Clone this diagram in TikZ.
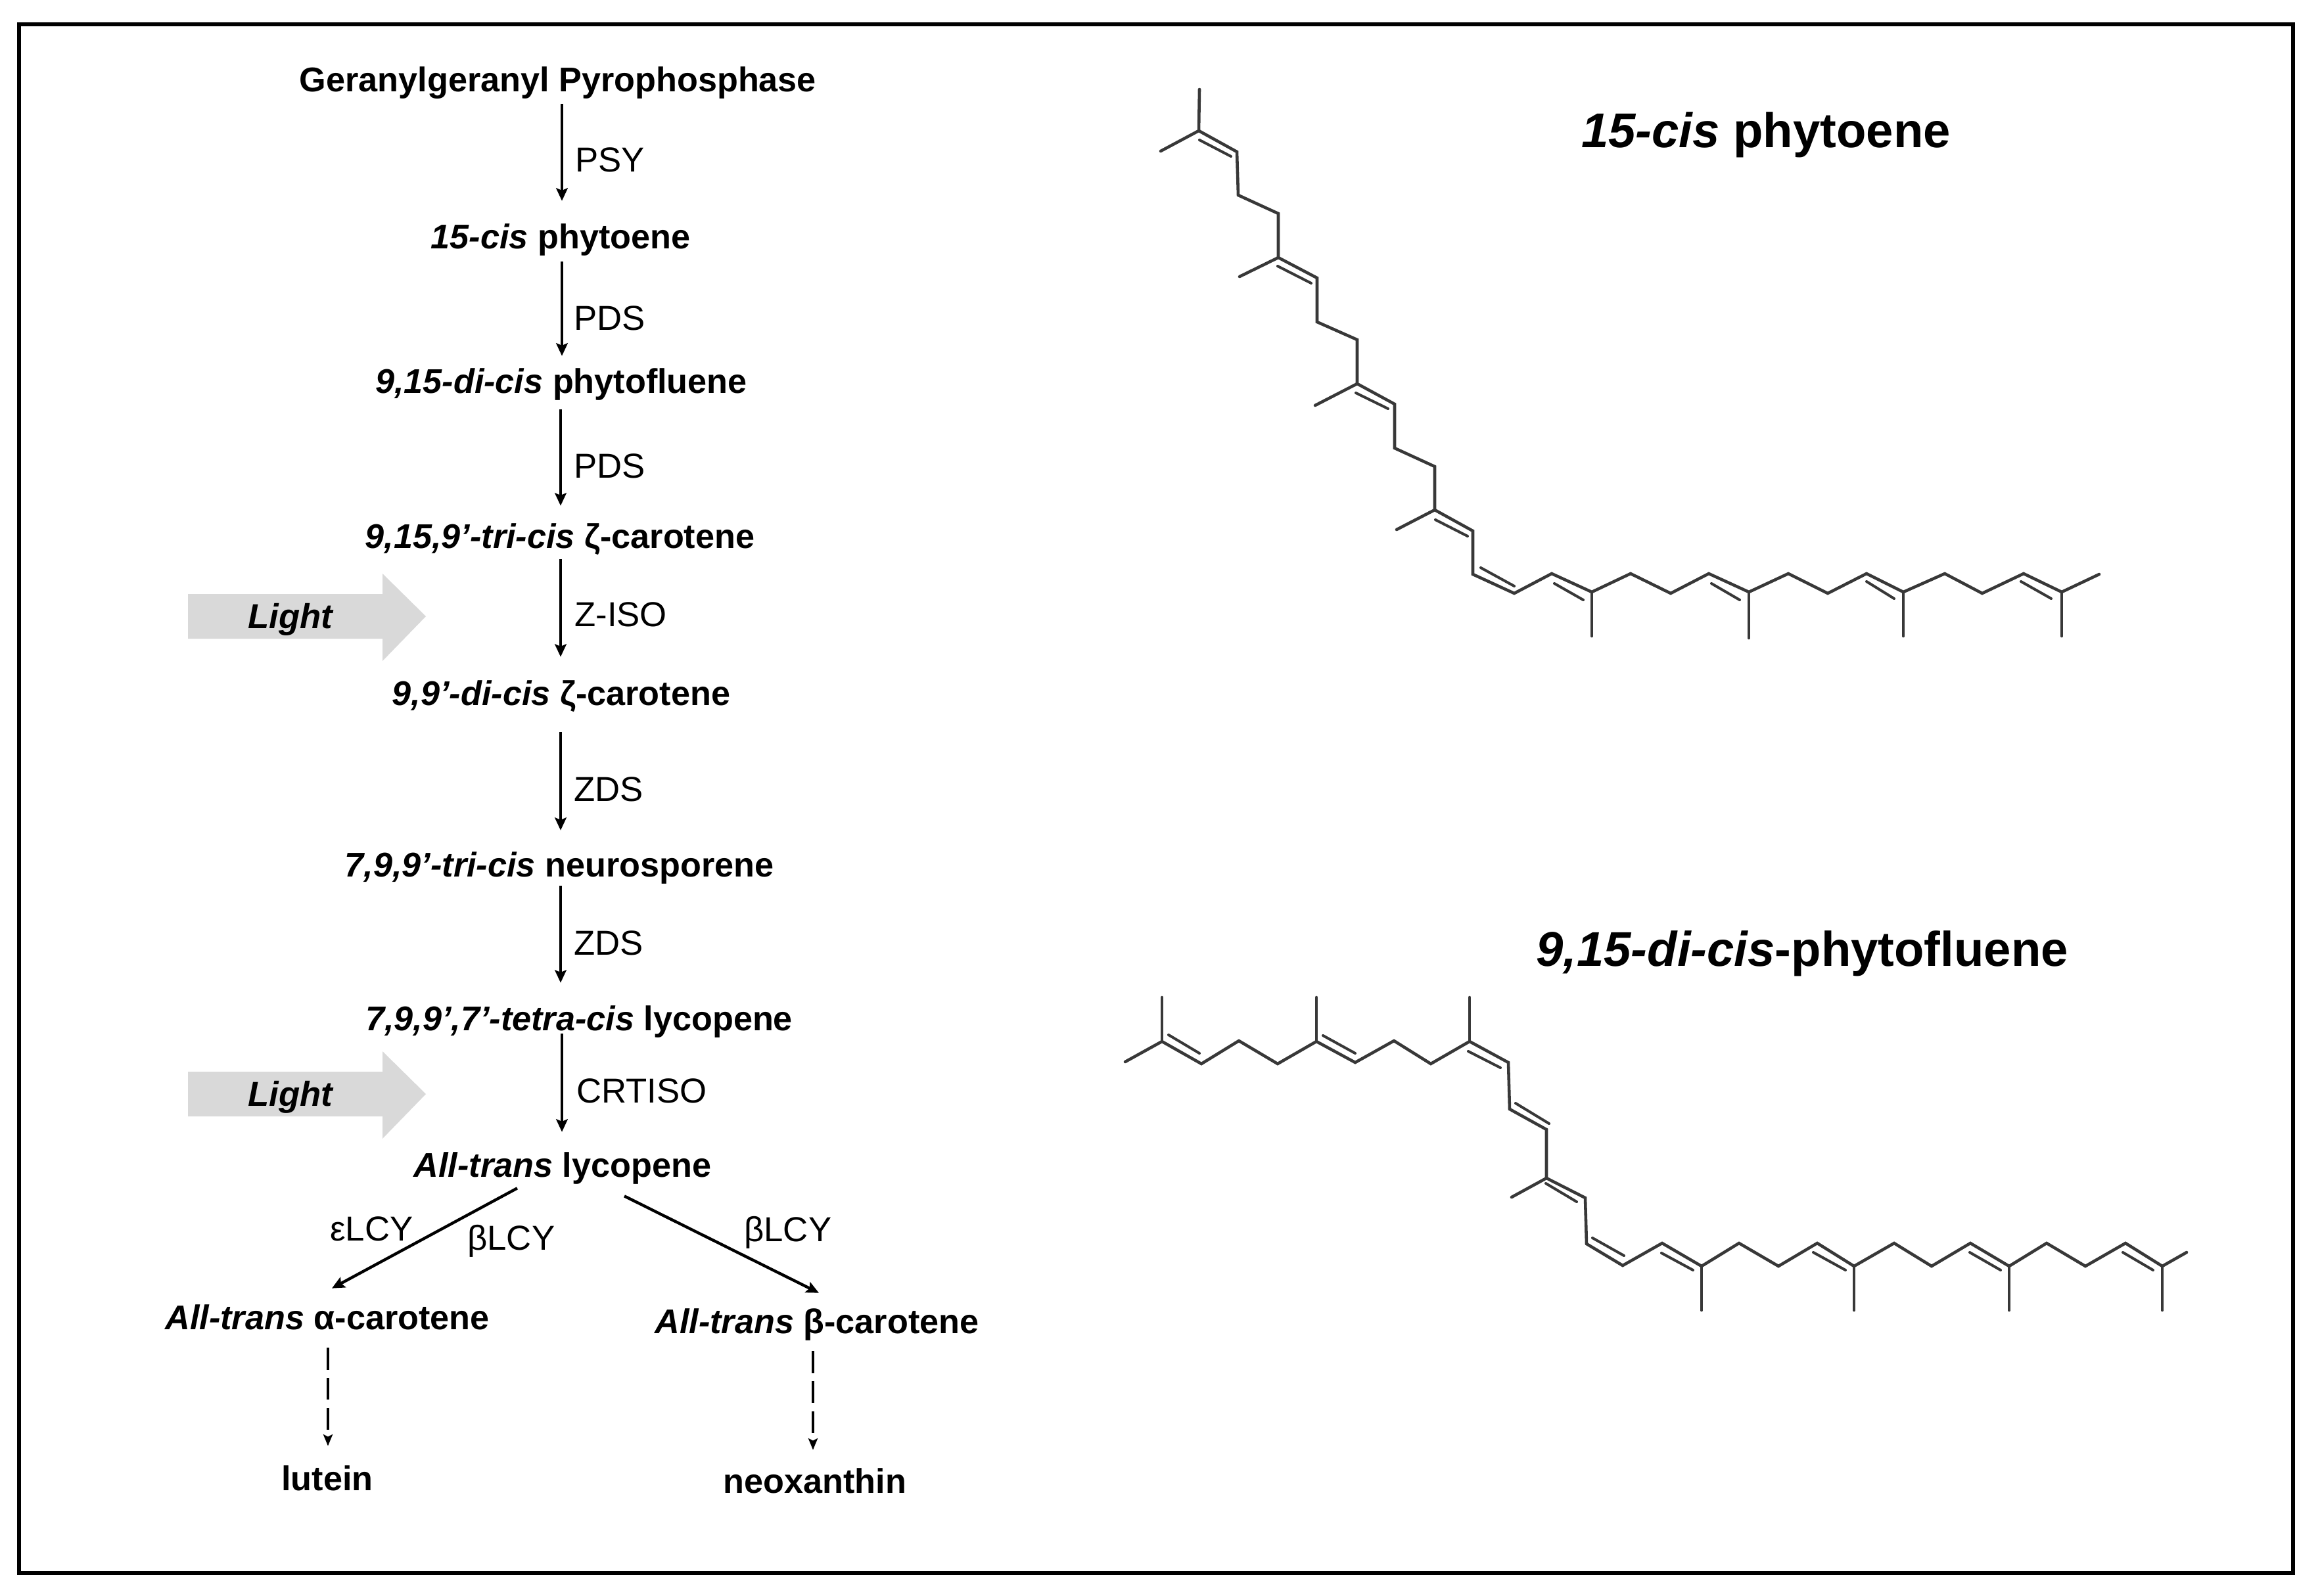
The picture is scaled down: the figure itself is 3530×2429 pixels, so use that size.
\documentclass[tikz,border=0pt]{standalone}
\usepackage{fontspec}
\setmainfont{Liberation Sans}
\usetikzlibrary{arrows.meta,calc}
\def\pxu{0.569pt}
\tikzset{
  chem/.style={draw=black!78,line width=2.6pt,line join=miter,line cap=round},
  inner/.style={draw=black!78,line width=2.3pt,line cap=round},
  cpd/.style={font=\fontsize{29.7}{33}\selectfont\bfseries,inner sep=0pt,text height=23.15pt,text depth=1.85pt,anchor=center},
  enz/.style={font=\fontsize{30}{33}\selectfont,inner sep=0pt,text height=21.5pt,text depth=0pt,anchor=west},
  ttl/.style={font=\fontsize{42.3}{47}\selectfont\bfseries,inner sep=0pt,text height=30.3pt,text depth=0pt,anchor=center},
  rx/.style={line width=2.5pt,-{Stealth[length=11pt,width=10pt,inset=2pt]}},
  dsh/.style={line width=2.2pt,dash pattern=on 19pt off 7pt,-{Stealth[length=10pt,width=8pt,inset=2pt]}},
  lightarrow/.style={fill=black!15,draw=none},
  lighttext/.style={font=\fontsize{30}{33}\selectfont\bfseries\itshape,inner sep=0pt},
}
\begin{document}
\begin{tikzpicture}[x=0.569pt,y=-0.569pt]
\useasboundingbox (0,0) rectangle (3530,2429);
\fill[white] (0,0) rectangle (3530,2429);
\draw[line width=3.4pt,black] (29,37) rectangle (3489,2394);

% pathway
\node[cpd] (ggpp) at (849,121) {Geranylgeranyl Pyrophosphase};
\node[cpd] (phy) at (853,360) {\textit{15-cis} phytoene};
\node[cpd] (pf) at (854,580) {\textit{9,15-di-cis} phytofluene};
\node[cpd] (zc1) at (852,816) {\textit{9,15,9’-tri-cis} ζ-carotene};
\node[cpd] (zc2) at (854,1055) {\textit{9,9’-di-cis} ζ-carotene};
\node[cpd] (neu) at (851,1316) {\textit{7,9,9’-tri-cis} neurosporene};
\node[cpd] (ply) at (881,1550) {\textit{7,9,9’,7’-tetra-cis} lycopene};
\node[cpd] (lyc) at (856,1773) {\textit{All-trans} lycopene};
\node[cpd] (ac) at (498,2005) {\textit{All-trans} α-carotene};
\node[cpd] (bc) at (1243,2011) {\textit{All-trans} β-carotene};
\node[cpd] (lut) at (498,2250) {lutein};
\node[cpd] (neo) at (1240,2254) {neoxanthin};

\coordinate (ax) at (855,0);
\coordinate (bx) at (853,0);
\draw[rx,shorten <=15*\pxu,shorten >=32*\pxu] (ggpp.south -| ax) -- (phy.north -| ax);
\draw[rx,shorten <=16*\pxu,shorten >=16*\pxu] (phy.south -| ax) -- (pf.north -| ax);
\draw[rx,shorten <=21*\pxu,shorten >=24*\pxu] (pf.south -| bx) -- (zc1.north -| bx);
\draw[rx,shorten <=13*\pxu,shorten >=33*\pxu] (zc1.south -| bx) -- (zc2.north -| bx);
\draw[rx,shorten <=37*\pxu,shorten >=30*\pxu] (zc2.south -| bx) -- (neu.north -| bx);
\draw[rx,shorten <=10*\pxu,shorten >=32*\pxu] (neu.south -| bx) -- (ply.north -| bx);
\draw[rx,shorten <=1*\pxu,shorten >=28*\pxu] (ply.south -| ax) -- (lyc.north -| ax);
\draw[rx] ($(lyc.south)+(-69,13)$) -- ($(ac.north)+(7,-22)$);
\draw[rx] ($(lyc.south)+(94,25)$) -- ($(bc.north)+(3,-21)$);
\draw[dsh] ($(ac.south)+(1,24)$) -- ($(lut.north)+(1,-27)$);
\draw[dsh] ($(bc.south)+(-6,23)$) -- ($(neo.north)+(-3,-25)$);

\node[enz] (e1) at (875,243) {PSY};
\node[enz] (e2) at (873,484) {PDS};
\node[enz] (e3) at (873,709) {PDS};
\node[enz] (e4) at (874,935) {Z-ISO};
\node[enz] (e5) at (873,1201) {ZDS};
\node[enz] (e6) at (873,1435) {ZDS};
\node[enz] (e7) at (877,1660) {CRTISO};
\node[enz] (e8) at (502,1870) {εLCY};
\node[enz] (e9) at (711,1884) {βLCY};
\node[enz] (e10) at (1132,1871) {βLCY};

% light arrows
\path[lightarrow] (286,904) -- (582,904) -- (582,873) -- (648,938) -- (582,1006) -- (582,972) -- (286,972) -- cycle;
\path[lightarrow] (286,1631) -- (582,1631) -- (582,1600) -- (648,1665) -- (582,1733) -- (582,1699) -- (286,1699) -- cycle;
\node[lighttext] (l1) at (442,943) {Light};
\node[lighttext] (l2) at (442,1670) {Light};

% titles
\node[ttl] (t1) at (2687,198) {\textit{15-cis} phytoene};
\node[ttl] (t2) at (2742,1444) {\textit{9,15-di-cis}-phytofluene};

% molecule 1
\draw[chem] (1766,230) -- (1824,199) -- (1882,231) -- (1884,297) -- (1945,325) -- (1945,392) -- (2004,423) -- (2004,490) -- (2065,517) -- (2065,584) -- (2122,615) -- (2122,682) -- (2183,710) -- (2183,776) -- (2241,808) -- (2241,874) -- (2304,903) -- (2361,873) -- (2422,901) -- (2481,873) -- (2542,903) -- (2600,873) -- (2661,901) -- (2721,873) -- (2781,903) -- (2840,873) -- (2896,901) -- (2959,873) -- (3016,903) -- (3079,873) -- (3137,901) -- (3194,874);
\draw[chem] (1824,199) -- (1825,136);
\draw[chem] (1945,392) -- (1886,421);
\draw[chem] (2065,584) -- (2001,617);
\draw[chem] (2183,776) -- (2125,806);
\draw[chem] (2422,901) -- (2422,968);
\draw[chem] (2661,901) -- (2661,971);
\draw[chem] (2896,901) -- (2896,968);
\draw[chem] (3137,901) -- (3137,968);
\draw[inner] (1825,213) -- (1873,238);
\draw[inner] (1944,405) -- (1995,431);
\draw[inner] (2063,598) -- (2112,622);
\draw[inner] (2184,791) -- (2233,816);
\draw[inner] (2253,864) -- (2304,892);
\draw[inner] (2365,888) -- (2409,913);
\draw[inner] (2604,888) -- (2647,913);
\draw[inner] (2840,885) -- (2882,911);
\draw[inner] (3075,885) -- (3121,911);

% molecule 2
\draw[chem] (1712,1616) -- (1768,1585) -- (1828,1619) -- (1885,1584) -- (1944,1619) -- (2003,1585) -- (2062,1617) -- (2121,1584) -- (2177,1619) -- (2236,1585) -- (2295,1617) -- (2297,1688) -- (2353,1719) -- (2353,1793) -- (2412,1823) -- (2414,1893) -- (2469,1926) -- (2529,1892) -- (2589,1927) -- (2646,1892) -- (2706,1927) -- (2765,1892) -- (2821,1927) -- (2882,1892) -- (2939,1927) -- (2998,1892) -- (3057,1927) -- (3114,1892) -- (3173,1927) -- (3234,1892) -- (3290,1927) -- (3327,1906);
\draw[chem] (1768,1585) -- (1768,1518);
\draw[chem] (2003,1585) -- (2003,1518);
\draw[chem] (2236,1585) -- (2236,1518);
\draw[chem] (2353,1793) -- (2300,1822);
\draw[chem] (2589,1927) -- (2589,1994);
\draw[chem] (2821,1927) -- (2821,1994);
\draw[chem] (3057,1927) -- (3057,1994);
\draw[chem] (3290,1927) -- (3290,1994);
\draw[inner] (1778,1575) -- (1825,1603);
\draw[inner] (2013,1576) -- (2062,1603);
\draw[inner] (2234,1600) -- (2283,1625);
\draw[inner] (2306,1679) -- (2357,1710);
\draw[inner] (2352,1801) -- (2399,1829);
\draw[inner] (2423,1884) -- (2471,1911);
\draw[inner] (2528,1907) -- (2576,1933);
\draw[inner] (2759,1906) -- (2808,1933);
\draw[inner] (2997,1906) -- (3044,1933);
\draw[inner] (3230,1906) -- (3276,1933);
\end{tikzpicture}
\end{document}
